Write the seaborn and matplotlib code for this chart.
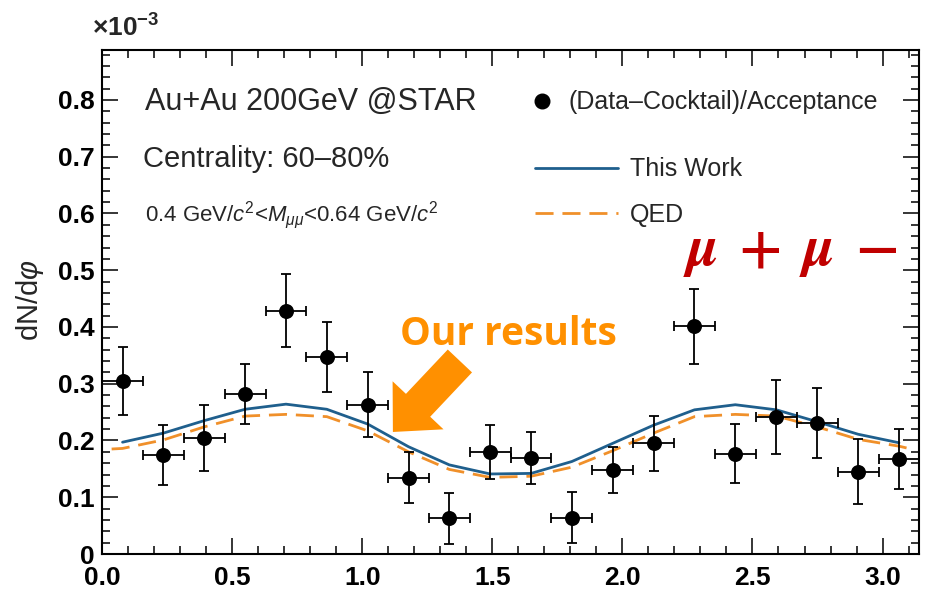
import matplotlib
matplotlib.use("Agg")
import matplotlib.pyplot as plt
import seaborn as sns
import pandas as pd
from matplotlib.lines import Line2D
from matplotlib.ticker import MultipleLocator, FixedLocator, FixedFormatter

# ---- measured azimuthal distribution (units of 1e-3) ----
phi = [0.079, 0.236, 0.393, 0.550, 0.707, 0.864, 1.021, 1.178, 1.335, 1.492,
       1.649, 1.806, 1.963, 2.120, 2.277, 2.434, 2.592, 2.749, 2.906, 3.063]
dndphi = [0.305, 0.175, 0.204, 0.282, 0.429, 0.347, 0.263, 0.134, 0.063, 0.180,
          0.169, 0.064, 0.148, 0.195, 0.401, 0.177, 0.241, 0.231, 0.145, 0.167]
dndphi_err = [0.060, 0.053, 0.058, 0.053, 0.064, 0.061, 0.057, 0.045, 0.045, 0.047,
              0.046, 0.045, 0.040, 0.049, 0.066, 0.052, 0.065, 0.062, 0.057, 0.053]
phi_halfbin = 0.0785

# ---- model curves ----
this_work = [0.197, 0.213, 0.235, 0.255, 0.264, 0.255, 0.229, 0.189, 0.157, 0.141,
             0.142, 0.163, 0.195, 0.227, 0.254, 0.263, 0.254, 0.233, 0.211, 0.196]
qed_phi = [0.037, 0.079, 0.236, 0.393, 0.550, 0.707, 0.864, 1.021, 1.178, 1.335, 1.492,
           1.649, 1.806, 1.963, 2.120, 2.277, 2.434, 2.592, 2.749, 2.906, 3.063, 3.100]
qed = [0.185, 0.186, 0.201, 0.224, 0.243, 0.246, 0.242, 0.217, 0.180, 0.149, 0.135,
       0.137, 0.153, 0.182, 0.213, 0.242, 0.246, 0.243, 0.224, 0.202, 0.190, 0.186]

x_ticks = [0.0, 0.5, 1.0, 1.5, 2.0, 2.5, 3.0]
x_tick_labels = ["0.0", "0.5", "1.0", "1.5", "2.0", "2.5", "3.0"]
y_ticks = [0.0, 0.1, 0.2, 0.3, 0.4, 0.5, 0.6, 0.7, 0.8]
y_tick_labels = ["0", "0.1", "0.2", "0.3", "0.4", "0.5", "0.6", "0.7", "0.8"]

data = pd.DataFrame({"phi": phi, "dndphi": dndphi, "err": dndphi_err})
model = pd.DataFrame({"phi": phi, "this_work": this_work})
qed_df = pd.DataFrame({"phi": qed_phi, "qed": qed})

sns.set_theme(style="ticks")
plt.rcParams["font.family"] = ["Liberation Sans", "DejaVu Sans"]
plt.rcParams["mathtext.fontset"] = "custom"
plt.rcParams["mathtext.rm"] = "Liberation Sans"
plt.rcParams["mathtext.it"] = "Liberation Sans:italic"
plt.rcParams["mathtext.bf"] = "Liberation Sans:bold"

W, H = 932, 605
fig = plt.figure(figsize=(W / 100, H / 100), dpi=100)
fig.patch.set_facecolor("white")
ax = fig.add_axes([102 / W, 1 - 554 / H, 817 / W, 504 / H])


def fpos(x, y):
    return x / W, 1 - y / H


BLUE = "#1f5f8d"
ORANGE = "#f0902a"

sns.lineplot(data=model, x="phi", y="this_work", ax=ax, color=BLUE, lw=2.0,
             sort=False, legend=False, zorder=3)
sns.lineplot(data=qed_df, x="phi", y="qed", ax=ax, color=ORANGE, lw=2.0,
             sort=False, legend=False, zorder=2)
ax.lines[-1].set_dashes((6.5, 3.2))

ax.errorbar(data["phi"], data["dndphi"], xerr=phi_halfbin, yerr=data["err"],
            fmt="none", ecolor="black", elinewidth=1.3, capsize=3.6, capthick=1.3,
            zorder=4)
sns.scatterplot(data=data, x="phi", y="dndphi", ax=ax, color="black", s=10.8 ** 2,
                edgecolor="black", linewidth=0, zorder=5, legend=False)

ax.set_xlim(0, 3.14)
ax.set_ylim(0, 0.888)
ax.set_xlabel("")
ax.set_ylabel("")

ax.xaxis.set_major_locator(FixedLocator(x_ticks))
ax.xaxis.set_major_formatter(FixedFormatter(x_tick_labels))
ax.yaxis.set_major_locator(FixedLocator(y_ticks))
ax.yaxis.set_major_formatter(FixedFormatter(y_tick_labels))
ax.xaxis.set_minor_locator(MultipleLocator(0.1))
ax.yaxis.set_minor_locator(MultipleLocator(0.02))

for s in ax.spines.values():
    s.set_visible(True)
    s.set_linewidth(1.5)
    s.set_color("black")

ax.tick_params(which="both", direction="in", top=True, right=True,
               color="black", width=1.1)
ax.tick_params(which="major", length=11.5)
ax.tick_params(which="minor", length=5.8)
ax.tick_params(axis="y", which="major", pad=5)
ax.tick_params(axis="x", which="major", pad=8.5)
for lab in ax.get_xticklabels() + ax.get_yticklabels():
    lab.set_fontweight("bold")
    lab.set_fontsize(19)
    lab.set_color("black")

# legends
leg1 = ax.legend(handles=[Line2D([], [], ls="none", marker="o", ms=10.5, color="black")],
                 labels=["(Data\u2013Cocktail)/Acceptance"], loc="upper left",
                 bbox_to_anchor=(0.5235, 0.92), frameon=False, fontsize=18,
                 handlelength=1.0, handletextpad=0.55, borderpad=0, borderaxespad=0)
ax.add_artist(leg1)
ax.legend(handles=[Line2D([], [], color=BLUE, lw=2.0),
                   Line2D([], [], color=ORANGE, lw=2.0, dashes=(6.5, 3.2))],
          labels=["This Work", "QED"], loc="upper left",
          bbox_to_anchor=(0.530, 0.787), frameon=False, fontsize=18,
          handlelength=3.3, handletextpad=0.5, labelspacing=0.85,
          borderpad=0, borderaxespad=0)

# annotations
fig.text(*fpos(145, 110), "Au+Au 200GeV @STAR", fontsize=22, va="baseline")
fig.text(*fpos(143, 167), "Centrality: 60\u201380%", fontsize=21, va="baseline")
fig.text(*fpos(145, 221), r"0.4 GeV/$c^2$<$M_{\mu\mu}$<0.64 GeV/$c^2$",
         fontsize=16, va="baseline")
fig.text(*fpos(92, 37), r"$\mathbf{\times10^{-3}}$", fontsize=19, va="baseline",
         fontweight="bold")
fig.text(*fpos(30, 300), r"dN/d$\varphi$", fontsize=21, rotation=90,
         ha="center", va="center")

fig.text(*fpos(400, 345), "Our results", fontsize=28, fontweight="bold",
         family="Open Sans", color="#ff9000", va="baseline")

# dimuon label, glyph by glyph
RED = "#c00000"
for gx, glyph, style in [(703, "\u03bc", "italic"), (760, "+", "normal"),
                         (819, "\u03bc", "italic"), (877, "\u2212", "normal")]:
    fig.text(*fpos(gx, 265), glyph, fontsize=42, fontweight="bold", fontstyle=style,
             family="STIXGeneral", color=RED, ha="center", va="baseline")

ax.annotate("", xy=(1.118, 0.215), xycoords="data",
            xytext=(67, 71), textcoords="offset pixels",
            arrowprops=dict(arrowstyle="simple,head_length=1.1,head_width=2.1,tail_width=1.0",
                            mutation_scale=24, color="#ff9000", shrinkA=0, shrinkB=0,
                            lw=0))

fig.savefig("out.png", dpi=100, facecolor="white")
